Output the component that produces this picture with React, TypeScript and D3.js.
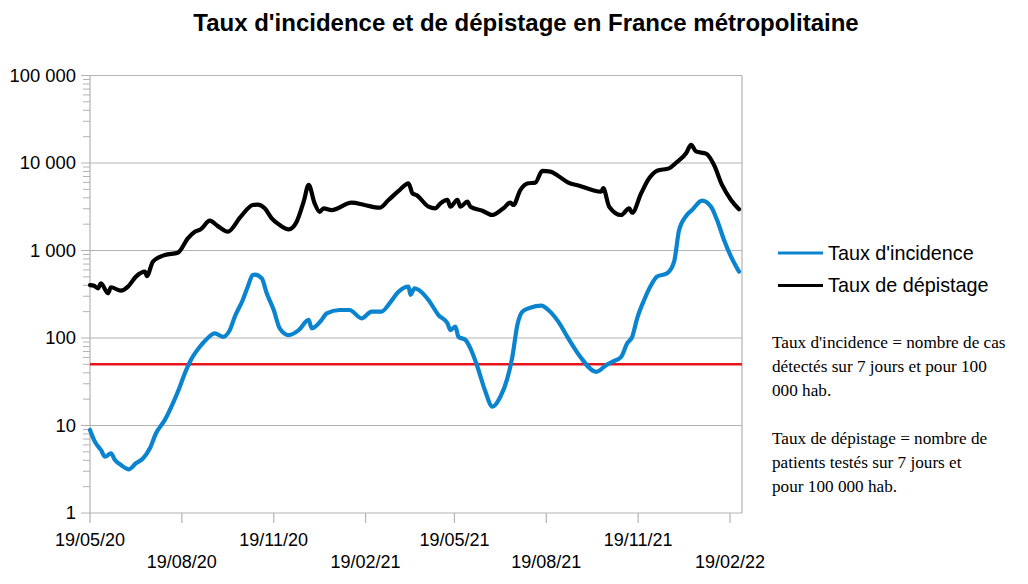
import React, { useRef, useEffect } from 'react';
import * as d3 from 'd3';

// Taux de dépistage (tests pour 100 000 hab. sur 7 jours)
const depistageDates = [
  '2020-05-19', '2020-05-23', '2020-05-27', '2020-05-30', '2020-06-06', '2020-06-09', '2020-06-19',
  '2020-06-26', '2020-07-04', '2020-07-13', '2020-07-15', '2020-07-21', '2020-08-02', '2020-08-15',
  '2020-08-25', '2020-09-01', '2020-09-07', '2020-09-16', '2020-09-24', '2020-10-04', '2020-10-17',
  '2020-10-29', '2020-11-03', '2020-11-10', '2020-11-17', '2020-11-25', '2020-12-04', '2020-12-12',
  '2020-12-19', '2020-12-24', '2020-12-30', '2021-01-04', '2021-01-08', '2021-01-16', '2021-02-05',
  '2021-02-18', '2021-03-05', '2021-03-14', '2021-03-25', '2021-04-03', '2021-04-07', '2021-04-11',
  '2021-04-23', '2021-04-30', '2021-05-05', '2021-05-12', '2021-05-15', '2021-05-22', '2021-05-25',
  '2021-06-01', '2021-06-04', '2021-06-16', '2021-06-26', '2021-07-07', '2021-07-14', '2021-07-17',
  '2021-07-24', '2021-08-01', '2021-08-08', '2021-08-15', '2021-08-23', '2021-08-31', '2021-09-10',
  '2021-09-21', '2021-10-04', '2021-10-13', '2021-10-15', '2021-10-21', '2021-11-02', '2021-11-10',
  '2021-11-13', '2021-11-22', '2021-11-30', '2021-12-08', '2021-12-20', '2021-12-27', '2022-01-06',
  '2022-01-11', '2022-01-16', '2022-01-26', '2022-02-03', '2022-02-11', '2022-02-20', '2022-02-28',
];
const depistageValues = [
  403, 395, 370, 420, 325, 380, 347,
  386, 503, 573, 510, 745, 888, 944,
  1377, 1640, 1750, 2190, 1900, 1640, 2440,
  3310, 3350, 3035, 2330, 1955, 1747, 2135,
  3615, 5610, 3460, 2770, 3035, 2900, 3520,
  3310, 3085, 3780, 4910, 5860, 4500, 4300,
  3170, 3035, 3460, 3780, 3170, 3780, 3170,
  3615, 3170, 2850, 2545, 3035, 3520, 3310,
  4910, 5860, 5960, 8110, 7960, 7100, 5960,
  5500, 4910, 4700, 5150, 3170, 2545, 3035,
  2700, 4510, 6680, 8170, 8690, 10070, 12900,
  16070, 13550, 12780, 9490, 5610, 3780, 2960,
];

// Taux d'incidence (cas pour 100 000 hab. sur 7 jours)
const incidenceDates = [
  '2020-05-19', '2020-05-24', '2020-05-30', '2020-06-03', '2020-06-09', '2020-06-13', '2020-06-19',
  '2020-06-27', '2020-07-04', '2020-07-11', '2020-07-18', '2020-07-24', '2020-08-02', '2020-08-10',
  '2020-08-17', '2020-08-22', '2020-08-28', '2020-09-06', '2020-09-12', '2020-09-21', '2020-09-29',
  '2020-10-06', '2020-10-11', '2020-10-19', '2020-10-24', '2020-10-29', '2020-10-31', '2020-11-07',
  '2020-11-12', '2020-11-19', '2020-11-25', '2020-12-04', '2020-12-14', '2020-12-24', '2020-12-27',
  '2021-01-06', '2021-01-11', '2021-01-24', '2021-02-03', '2021-02-15', '2021-02-25', '2021-03-07',
  '2021-03-15', '2021-03-24', '2021-04-03', '2021-04-05', '2021-04-09', '2021-04-13', '2021-04-23',
  '2021-05-03', '2021-05-12', '2021-05-15', '2021-05-20', '2021-05-23', '2021-05-30', '2021-06-04',
  '2021-06-11', '2021-06-19', '2021-06-26', '2021-07-04', '2021-07-11', '2021-07-16', '2021-07-21',
  '2021-07-26', '2021-08-03', '2021-08-14', '2021-08-21', '2021-08-31', '2021-09-10', '2021-09-22',
  '2021-10-08', '2021-10-18', '2021-10-24', '2021-11-02', '2021-11-08', '2021-11-13', '2021-11-18',
  '2021-11-25', '2021-12-02', '2021-12-08', '2021-12-18', '2021-12-25', '2021-12-30', '2022-01-06',
  '2022-01-12', '2022-01-22', '2022-01-31', '2022-02-06', '2022-02-13', '2022-02-20', '2022-02-28',
];
const incidenceValues = [
  8.9, 6.5, 5.25, 4.4, 4.8, 4.03, 3.54,
  3.16, 3.7, 4.2, 5.5, 8.1, 11.6, 17.9,
  27.8, 39.5, 56, 79.5, 95, 113, 103,
  123, 175, 272, 386, 525, 530, 481,
  324, 209, 129, 108, 123, 161, 129,
  161, 191, 209, 209, 168, 200, 200,
  249, 338, 386, 311, 370, 356, 272,
  183, 147, 123, 135, 103, 95, 76,
  47, 24.4, 16.4, 21.3, 34.6, 61, 141,
  200, 222, 234, 209, 154, 99, 61,
  41, 49, 53.5, 61, 87, 103, 168,
  272, 403, 503, 549, 745, 1715, 2480,
  2900, 3715, 3170, 2230, 1318, 850, 573,
];

const seuil = 50;
const yTicks = [1, 10, 100, 1000, 10000, 100000];
const xTickDates = [
  '2020-05-19', '2020-08-19', '2020-11-19', '2021-02-19',
  '2021-05-19', '2021-08-19', '2021-11-19', '2022-02-19',
];
const legendItems = [
  { label: "Taux d'incidence", color: '#0a84cf' },
  { label: 'Taux de dépistage', color: '#000000' },
];
const noteLines = [
  "Taux d'incidence = nombre de cas",
  'détectés sur 7 jours et pour 100',
  '000 hab.',
  '',
  'Taux de dépistage = nombre de',
  'patients testés sur 7 jours et',
  'pour 100 000 hab.',
];

const App = () => {
  const ref = useRef<SVGSVGElement | null>(null);

  useEffect(() => {
    if (!ref.current) return;
    const svg = d3.select(ref.current);
    svg.selectAll('*').remove();

    const parse = d3.timeParse('%Y-%m-%d');
    const left = 90, right = 742, top = 75.5, bottom = 513;
    const font = 'Liberation Sans, Arial, sans-serif';

    const x = d3.scaleTime()
      .domain([parse('2020-05-19')!, parse('2022-03-03')!])
      .range([left, right]);
    const y = d3.scaleLog().domain([1, 100000]).range([bottom, top]);

    // title
    svg.append('text')
      .attr('x', 526).attr('y', 31)
      .attr('text-anchor', 'middle')
      .style('font-family', font).style('font-size', '24px').style('font-weight', 'bold')
      .text("Taux d'incidence et de dépistage en France métropolitaine");

    // grid + y ticks
    const g = svg.append('g');
    yTicks.forEach((v) => {
      g.append('line')
        .attr('x1', left - 9).attr('x2', right)
        .attr('y1', y(v)).attr('y2', y(v))
        .attr('stroke', '#b3b3b3').attr('stroke-width', 1.2);
      g.append('text')
        .attr('x', 76).attr('y', y(v)).attr('dy', '0.35em')
        .attr('text-anchor', 'end')
        .style('font-family', font).style('font-size', '18.4px')
        .text(d3.format(',')(v).replace(/,/g, ' '));
    });
    // minor ticks
    for (let d = 1; d < 100000; d *= 10) {
      for (let k = 2; k <= 9; k++) {
        g.append('line')
          .attr('x1', left - 7).attr('x2', left)
          .attr('y1', y(d * k)).attr('y2', y(d * k))
          .attr('stroke', '#b3b3b3').attr('stroke-width', 1);
      }
    }
    // axis lines
    g.append('line').attr('x1', left).attr('x2', left).attr('y1', top).attr('y2', bottom)
      .attr('stroke', '#b3b3b3').attr('stroke-width', 1.2);
    g.append('line').attr('x1', right).attr('x2', right).attr('y1', top).attr('y2', bottom)
      .attr('stroke', '#b3b3b3').attr('stroke-width', 1.2);

    // x ticks
    xTickDates.forEach((s, i) => {
      const px = x(parse(s)!);
      g.append('line').attr('x1', px).attr('x2', px).attr('y1', bottom).attr('y2', bottom + 10)
        .attr('stroke', '#b3b3b3').attr('stroke-width', 1.2);
      g.append('text')
        .attr('x', px).attr('y', i % 2 === 0 ? 546 : 568)
        .attr('text-anchor', 'middle')
        .style('font-family', font).style('font-size', '18px')
        .text(d3.timeFormat('%d/%m/%y')(parse(s)!));
    });

    // threshold
    g.append('line')
      .attr('x1', left).attr('x2', right)
      .attr('y1', y(seuil)).attr('y2', y(seuil))
      .attr('stroke', '#e8141c').attr('stroke-width', 2.5);

    const line = d3.line<[Date, number]>()
      .x((d) => x(d[0]))
      .y((d) => y(d[1]))
      .curve(d3.curveMonotoneX);

    const dep = depistageDates.map((s, i) => [parse(s)!, depistageValues[i]] as [Date, number]);
    const inc = incidenceDates.map((s, i) => [parse(s)!, incidenceValues[i]] as [Date, number]);

    svg.append('path').datum(inc)
      .attr('d', line).attr('fill', 'none')
      .attr('stroke', legendItems[0].color).attr('stroke-width', 4.2)
      .attr('stroke-linejoin', 'round').attr('stroke-linecap', 'round');
    svg.append('path').datum(dep)
      .attr('d', line).attr('fill', 'none')
      .attr('stroke', legendItems[1].color).attr('stroke-width', 4.2)
      .attr('stroke-linejoin', 'round').attr('stroke-linecap', 'round');

    // legend
    legendItems.forEach((it, i) => {
      const ly = 253 + i * 32.5;
      svg.append('line').attr('x1', 778).attr('x2', 823).attr('y1', ly).attr('y2', ly)
        .attr('stroke', it.color).attr('stroke-width', 3);
      svg.append('text').attr('x', 828).attr('y', ly).attr('dy', '0.35em')
        .style('font-family', font).style('font-size', '19.8px')
        .text(it.label);
    });

    // notes
    noteLines.forEach((t, i) => {
      if (!t) return;
      svg.append('text').attr('x', 772).attr('y', 348 + i * 24)
        .style('font-family', 'Liberation Serif, Times New Roman, serif').style('font-size', '17.2px')
        .text(t);
    });
  }, []);

  return (
    <svg ref={ref} width={1028} height={584}
      style={{ position: 'absolute', left: 0, top: 0, background: '#fff' }} />
  );
};

export default App;
